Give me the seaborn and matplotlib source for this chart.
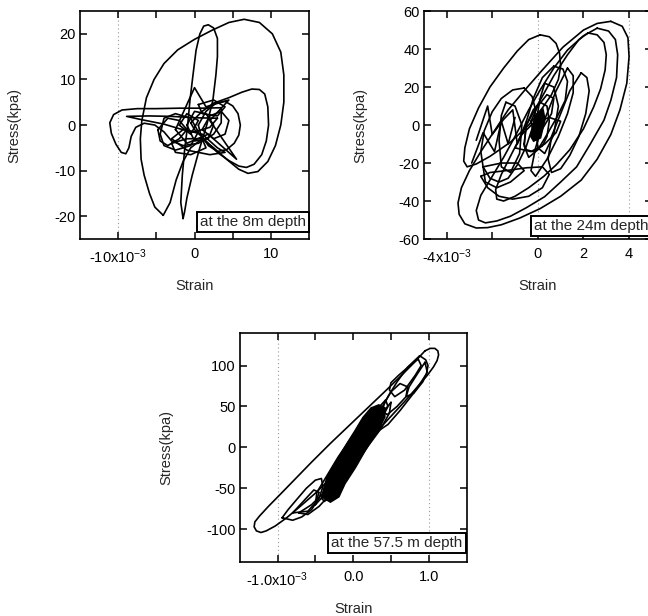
import pandas as pd
import seaborn as sns
import matplotlib.pyplot as plt

# Stress-strain loops.
# strain is in units of 1e-3, stress in kPa

# --- at the 8m depth ---
p1_big_x = [-4.1, -5.2, -5.9, -6.6, -7.0, -7.1, -6.9, -6.3, -5.3, -4.0, -2.2, 0.0, 2.3, 4.5, 6.5, 8.5,
            10.2, 11.3, 11.7, 11.7, 11.3, 10.6, 9.6, 8.3, 7.0, 5.8, 4.2, 2.5, 1.0, -0.5, -1.5, -2.4, -3.2, -4.1]
p1_big_y = [-19.8, -18.0, -15.0, -11.0, -7.5, -3.0, 1.0, 6.0, 10.0, 13.5, 16.5, 18.8, 20.8, 22.5, 23.2, 22.5,
            20.0, 16.0, 11.0, 5.0, 0.0, -4.5, -8.0, -10.2, -10.6, -9.7, -7.5, -5.0, -3.0, -5.0, -8.0, -12.0, -17.0, -19.8]
p1_tall_x = [-1.5, -1.8, -1.6, -1.3, -0.9, -0.6, -0.2, 0.2, 0.7, 1.2, 1.8, 2.5, 3.0, 3.0, 2.8, 2.4,
             1.6, 0.6, -0.3, -1.0, -1.3, -1.5]
p1_tall_y = [-20.5, -17.0, -11.0, -5.5, 0.0, 5.4, 11.0, 16.4, 20.0, 21.7, 22.0, 21.3, 19.0, 15.0, 11.0, 5.4,
             0.0, -5.5, -11.0, -16.0, -19.0, -20.5]
p1_left_x = [3.5, 1.0, -2.0, -5.0, -7.5, -9.5, -10.6, -11.1, -10.9, -10.3, -9.6, -9.0, -8.6, -8.3, -7.7,
             -6.6, -5.2, -4.0, -3.0, -1.5, 0.5, 2.5, 3.5, 3.5]
p1_left_y = [3.8, 3.7, 3.7, 3.6, 3.6, 3.3, 2.3, 0.5, -1.8, -4.2, -6.0, -6.3, -5.0, -2.5, -0.5,
             0.4, 0.0, -1.5, -3.5, -4.5, -4.0, -2.0, 0.5, 3.8]
p1_wedge_x = [3.0, 0.0, -3.0, -6.0, -8.9, -7.0, -4.0, -2.0, 0.0, 2.0, 3.0]
p1_wedge_y = [1.5, 1.6, 1.9, 2.0, 1.9, 1.2, 0.2, -0.8, -1.5, -0.5, 1.5]
p1_right1_x = [-0.5, 1.0, 2.5, 4.5, 6.2, 7.5, 8.5, 9.2, 9.6, 9.7, 9.4, 8.8, 7.8, 6.8, 5.8, 4.5, 3.0, 1.5, 0.0, -0.5]
p1_right1_y = [0.5, 3.0, 4.8, 6.0, 7.2, 7.9, 7.8, 6.8, 4.0, 0.0, -3.5, -6.5, -8.6, -9.3, -9.0, -7.8, -6.0, -3.5, -1.0, 0.5]
p1_right2_x = [0.5, 1.5, 2.8, 4.0, 5.0, 5.7, 6.0, 5.8, 5.2, 4.2, 3.0, 1.8, 0.8, 0.5]
p1_right2_y = [0.0, 3.0, 4.8, 5.2, 4.2, 2.5, 0.0, -2.2, -4.0, -5.4, -5.8, -4.5, -2.0, 0.0]
p1_star_x = [-2.5, 0.0, 1.5, 4.5, 2.0, 5.5, 1.8, -1.0, -2.5]
p1_star_y = [-1.0, 8.2, 4.0, 5.5, 1.0, -7.5, -2.0, -4.0, -1.0]
p1_c1_x = [-4.5, -4.0, -2.5, -0.5, 0.5, -0.5, -2.5, -4.0, -4.5]
p1_c1_y = [-2.0, 1.5, 2.5, 1.5, -1.5, -4.5, -5.5, -4.5, -2.0]
p1_c2_x = [-1.0, 0.0, 1.5, 2.5, 1.8, 0.0, -1.0]
p1_c2_y = [0.0, 3.0, 2.5, 0.0, -3.0, -3.5, 0.0]
p1_c3_x = [-3.0, -1.5, 1.0, 3.0, 4.0, 2.0, -1.0, -3.0]
p1_c3_y = [-3.0, -1.0, -2.0, -5.0, -6.0, -6.5, -5.5, -3.0]
p1_c4_x = [-2.0, -1.0, 0.5, -0.5, -2.0]
p1_c4_y = [0.0, 2.5, 1.0, -2.0, 0.0]
p1_c5_x = [-4.8, -4.5, -3.5, -2.0, -1.0, -2.0, -3.5, -4.8]
p1_c5_y = [-1.0, -3.5, -4.5, -3.0, -1.0, 1.0, 1.5, -1.0]
p1_c6_x = [1.0, 2.0, 3.5, 4.5, 4.0, 2.5, 1.0]
p1_c6_y = [-1.0, 2.0, 3.0, 1.0, -2.0, -3.0, -1.0]
p1_c7_x = [-3.0, -2.5, -0.5, 1.5, 1.0, -1.0, -3.0]
p1_c7_y = [-4.0, -6.0, -6.5, -5.0, -3.0, -3.0, -4.0]
p1_c8_x = [0.5, 2.5, 4.0, 3.0, 1.0, 0.5]
p1_c8_y = [4.5, 5.5, 4.0, 2.0, 2.5, 4.5]

# --- at the 24m depth ---
p2_outer_x = [3.2, 3.7, 3.95, 4.0, 3.9, 3.6, 3.2, 2.6, 1.9, 1.0, 0.1, -0.8, -1.6, -2.2, -2.7, -3.2, -3.45, -3.5,
              -3.35, -3.0, -2.5, -1.9, -1.3, -0.6, 0.2, 1.1, 2.0, 2.6, 3.2]
p2_outer_y = [54.6, 52.0, 46.0, 36.0, 22.0, 8.0, -5.0, -18.0, -29.0, -37.5, -44.0, -49.0, -52.5, -54.0, -54.2,
              -52.0, -47.0, -41.0, -33.0, -24.0, -14.0, -3.0, 8.0, 18.0, 29.0, 41.0, 50.0, 53.5, 54.6]
p2_e3_x = [2.6, 3.1, 3.4, 3.5, 3.45, 3.2, 2.9, 2.3, 1.7, 1.0, 0.3, -0.5, -1.2, -1.8, -2.3, -2.6, -2.7,
           -2.5, -2.1, -1.5, -1.0, -0.4, 0.1, 0.7, 1.3, 2.0, 2.6]
p2_e3_y = [51.0, 49.5, 45.0, 37.0, 25.0, 13.0, 2.6, -10.0, -22.0, -30.0, -37.7, -43.5, -48.0, -50.5, -51.5,
           -50.0, -45.0, -37.0, -29.0, -17.0, -6.0, 8.0, 18.4, 30.0, 39.5, 47.0, 51.0]
p2_e4_x = [2.2, 2.6, 2.9, 3.0, 2.95, 2.75, 2.45, 2.0, 1.4, 0.8, 0.26, -0.4, -1.0, -1.5, -1.8, -1.85, -1.6,
           -1.1, -0.5, 0.1, 0.7, 1.3, 1.8, 2.2]
p2_e4_y = [48.5, 47.5, 43.5, 37.0, 29.0, 19.0, 9.6, -2.0, -13.0, -21.0, -27.0, -33.0, -37.5, -40.0, -39.0,
           -34.0, -26.0, -14.0, 0.0, 13.0, 26.0, 37.0, 45.0, 48.5]
p2_e1_x = [0.1, 0.5, 0.8, 0.95, 1.0, 0.9, 0.6, 0.2, -0.4, -1.2, -2.1, -2.7, -3.1, -3.25, -3.2, -3.0, -2.6,
           -2.1, -1.5, -0.9, -0.4, 0.1]
p2_e1_y = [47.5, 46.5, 43.0, 38.0, 31.0, 24.0, 16.0, 9.0, 0.0, -9.0, -16.5, -20.5, -22.0, -19.0, -12.0, -2.0,
           9.0, 20.0, 30.0, 39.0, 45.0, 47.5]
p2_m1_x = [-0.6, -1.1, -1.6, -2.0, -2.35, -2.5, -2.4, -2.1, -1.7, -1.3, -0.9, -0.5, -0.2, -0.1, -0.25, -0.6]
p2_m1_y = [19.5, 18.5, 14.0, 7.0, -3.0, -14.0, -22.0, -28.0, -30.0, -28.0, -21.0, -11.0, 0.0, 8.0, 15.0, 19.5]
p2_m2_x = [0.7, 1.1, 1.3, 1.2, 0.85, 0.4, 0.0, -0.4, -0.6, -0.5, -0.2, 0.2, 0.7]
p2_m2_y = [31.0, 29.5, 23.0, 13.0, 4.4, -5.0, -13.0, -17.0, -11.0, 2.0, 14.0, 25.0, 31.0]
p2_m3_x = [1.9, 2.15, 2.25, 2.1, 1.8, 1.4, 1.0, 0.6, 0.45, 0.6, 1.0, 1.4, 1.9]
p2_m3_y = [27.5, 25.0, 18.0, 6.0, -6.0, -16.0, -23.0, -25.0, -18.0, -6.0, 6.0, 18.0, 27.5]
p2_m4_x = [1.3, 1.55, 1.55, 1.3, 0.9, 0.4, -0.1, -0.3, -0.1, 0.3, 0.8, 1.3]
p2_m4_y = [30.0, 26.0, 17.0, 6.0, -6.0, -18.0, -27.0, -24.0, -12.0, 3.0, 18.0, 30.0]
p2_m5_x = [-1.4, -1.0, -0.7, -0.8, -1.2, -1.6, -1.7, -1.6, -1.4]
p2_m5_y = [12.0, 10.0, 0.0, -15.0, -25.0, -22.0, -8.0, 5.0, 12.0]
p2_m6_x = [0.3, 0.7, 0.9, 0.7, 0.3, 0.0, -0.1, 0.1, 0.3]
p2_m6_y = [22.0, 20.0, 10.0, -5.0, -15.0, -12.0, 0.0, 14.0, 22.0]
p2_low_x = [-2.5, -2.2, -1.7, -1.1, -0.4, 0.2, 0.5, 0.2, -0.5, -1.4, -2.1, -2.5]
p2_low_y = [-27.0, -33.0, -37.5, -39.0, -37.5, -33.0, -26.0, -22.0, -22.5, -24.0, -25.0, -27.0]
p2_low2_x = [-2.4, -2.3, -1.8, -1.2, -0.6, -0.9, -1.6, -2.4]
p2_low2_y = [-22.0, -30.0, -33.0, -30.0, -24.0, -20.0, -20.0, -22.0]
p2_zig_x = [-2.7, -2.2, -2.0, -1.5, -1.1, -0.9, -0.5]
p2_zig_y = [-8.0, 10.0, -5.0, 3.0, 8.0, -10.0, 2.0]
p2_zig2_x = [-2.9, -2.4, -1.9, -1.6, -1.3, -1.0]
p2_zig2_y = [-20.0, -4.0, -14.0, 2.0, -10.0, 4.0]
p2_c1_x = [-0.6, -0.5, -0.2, 0.1, 0.4, 0.5, 0.4, 0.2, -0.2, -0.5, -0.6]
p2_c1_y = [-10.0, 0.0, 8.0, 12.0, 10.0, 2.0, -6.0, -11.0, -14.0, -13.0, -10.0]
p2_c2_x = [-1.0, -0.7, -0.2, 0.5, 1.0, 0.8, 0.3, -0.3, -1.0]
p2_c2_y = [-12.0, -5.0, 1.0, 4.0, 2.0, -4.0, -10.0, -14.0, -12.0]
p2_c3_x = [-0.3, 0.0, 0.4, 0.7, 0.6, 0.2, -0.2, -0.3]
p2_c3_y = [2.0, 10.0, 16.0, 14.0, 6.0, -2.0, -4.0, 2.0]
p2_blob_x = [-0.35, -0.1, 0.25, 0.35, 0.15, -0.2]
p2_blob_y = [-6.0, 6.0, 9.0, 3.0, -7.0, -9.0]

# --- at the 57.5 m depth ---
p3_outer_x = [0.95, 1.02, 1.08, 1.12, 1.13, 1.11, 1.06, 0.98, 0.85, 0.7, 0.5, 0.3, 0.1, -0.1, -0.3, -0.5,
              -0.7, -0.88, -1.03, -1.15, -1.22, -1.28, -1.31, -1.3, -1.24, -1.12, -0.95, -0.75, -0.55,
              -0.3, -0.05, 0.2, 0.45, 0.65, 0.8, 0.9, 0.95]
p3_outer_y = [118, 121, 121, 118, 113, 106, 98, 88, 74, 58, 38, 18, -2, -20, -38, -56,
              -72, -86, -96, -102, -104, -102, -97, -91, -84, -72, -56, -37, -18,
              5, 27, 49, 71, 89, 103, 113, 118]
p3_u1_x = [0.88, 0.96, 0.99, 0.97, 0.9, 0.78, 0.62, 0.46, 0.33, 0.3, 0.36, 0.46, 0.58, 0.72, 0.88]
p3_u1_y = [112, 107, 100, 90, 80, 64, 45, 28, 20, 30, 45, 62, 80, 98, 112]
p3_u2_x = [0.86, 0.75, 0.6, 0.5, 0.48, 0.55, 0.68, 0.82, 0.9, 0.86]
p3_u2_y = [108, 100, 88, 79, 70, 62, 70, 88, 100, 108]
p3_u3_x = [0.72, 0.62, 0.5, 0.42, 0.38, 0.45, 0.58, 0.7, 0.72]
p3_u3_y = [74, 78, 68, 55, 45, 40, 50, 62, 74]
p3_u4_x = [0.95, 0.98, 0.92, 0.8, 0.7, 0.74, 0.85, 0.95]
p3_u4_y = [104, 92, 80, 66, 62, 74, 90, 104]
p3_l1_x = [-0.94, -0.86, -0.75, -0.62, -0.5, -0.42, -0.4, -0.45, -0.55, -0.68, -0.8, -0.94]
p3_l1_y = [-86, -76, -64, -50, -40, -38, -48, -62, -76, -85, -89, -86]
p3_l2_x = [-0.8, -0.7, -0.6, -0.52, -0.45, -0.5, -0.6, -0.8]
p3_l2_y = [-80, -70, -60, -52, -55, -68, -78, -80]
p3_l3_x = [-0.72, -0.6, -0.45, -0.35, -0.3, -0.42, -0.55, -0.72]
p3_l3_y = [-80, -82, -72, -62, -55, -58, -70, -80]
p3_b1_x = [0.43, 0.46, 0.35, 0.2, 0.05, -0.12, -0.28, -0.38, -0.42, -0.32, -0.15, 0.0, 0.15, 0.3, 0.43]
p3_b1_y = [58, 50, 30, 8, -15, -38, -58, -66, -62, -45, -22, 0, 22, 45, 58]
p3_b2_x = [0.5, 0.48, 0.36, 0.2, 0.05, -0.1, -0.2, -0.1, 0.05, 0.2, 0.35, 0.5]
p3_b2_y = [55, 42, 22, 2, -18, -40, -50, -30, -8, 15, 38, 55]
p3_b3_x = [-0.5, -0.48, -0.35, -0.2, -0.05, 0.1, 0.15, 0.0, -0.15, -0.3, -0.5]
p3_b3_y = [-70, -55, -35, -12, 8, 30, 18, -5, -28, -50, -70]
p3_dense_x = [-0.43, -0.36, -0.23, -0.1, 0.01, 0.12, 0.23, 0.34, 0.43, 0.43, 0.34, 0.25, 0.17,
              0.04, -0.1, -0.18, -0.3, -0.43]
p3_dense_y = [-61, -37, -16, 4, 20, 37, 49, 53, 49, 37, 20, 8, -4,
              -25, -45, -61, -68, -61]

panels = [
    dict(loops={'big': (p1_big_x, p1_big_y), 'tall': (p1_tall_x, p1_tall_y),
                'left': (p1_left_x, p1_left_y), 'wedge': (p1_wedge_x, p1_wedge_y),
                'r1': (p1_right1_x, p1_right1_y), 'r2': (p1_right2_x, p1_right2_y),
                'star': (p1_star_x, p1_star_y), 'c1': (p1_c1_x, p1_c1_y),
                'c2': (p1_c2_x, p1_c2_y), 'c3': (p1_c3_x, p1_c3_y), 'c4': (p1_c4_x, p1_c4_y),
                'c5': (p1_c5_x, p1_c5_y), 'c6': (p1_c6_x, p1_c6_y), 'c7': (p1_c7_x, p1_c7_y),
                'c8': (p1_c8_x, p1_c8_y)},
         fill=None,
         rect=[0.1235, 0.612, 0.3534, 0.370],
         xlim=(-15, 15), ylim=(-25, 25),
         xticks=[-10, -5, 0, 5, 10], xticklabels=['-10x10$^{-3}$', '', '0', '', '10'],
         yticks=[-20, -10, 0, 10, 20], yticklabels=['-20', '-10', '0', '10', '20'],
         vlines=[-10], label='at the 8m depth', box_xy=(0.985, 0.045), ylab_x=-0.258),
    dict(loops={'outer': (p2_outer_x, p2_outer_y), 'e3': (p2_e3_x, p2_e3_y),
                'e4': (p2_e4_x, p2_e4_y), 'e1': (p2_e1_x, p2_e1_y),
                'm1': (p2_m1_x, p2_m1_y), 'm2': (p2_m2_x, p2_m2_y), 'm3': (p2_m3_x, p2_m3_y),
                'm4': (p2_m4_x, p2_m4_y), 'm5': (p2_m5_x, p2_m5_y), 'm6': (p2_m6_x, p2_m6_y),
                'low': (p2_low_x, p2_low_y), 'low2': (p2_low2_x, p2_low2_y),
                'zig': (p2_zig_x, p2_zig_y), 'zig2': (p2_zig2_x, p2_zig2_y),
                'c1': (p2_c1_x, p2_c1_y), 'c2': (p2_c2_x, p2_c2_y), 'c3': (p2_c3_x, p2_c3_y)},
         fill=(p2_blob_x, p2_blob_y),
         rect=[0.654, 0.612, 0.352, 0.370],
         xlim=(-5, 5), ylim=(-60, 60),
         xticks=[-4, -2, 0, 2, 4], xticklabels=['-4x10$^{-3}$', '', '0', '2', '4'],
         yticks=[-60, -40, -20, 0, 20, 40, 60],
         yticklabels=['-60', '-40', '-20', '0', '20', '40', '60'],
         vlines=[0, 4], label='at the 24m depth', box_xy=(0.985, 0.027), ylab_x=-0.246),
    dict(loops={'outer': (p3_outer_x, p3_outer_y), 'u1': (p3_u1_x, p3_u1_y),
                'u2': (p3_u2_x, p3_u2_y), 'u3': (p3_u3_x, p3_u3_y), 'u4': (p3_u4_x, p3_u4_y),
                'l1': (p3_l1_x, p3_l1_y), 'l2': (p3_l2_x, p3_l2_y), 'l3': (p3_l3_x, p3_l3_y),
                'b1': (p3_b1_x, p3_b1_y), 'b2': (p3_b2_x, p3_b2_y), 'b3': (p3_b3_x, p3_b3_y)},
         fill=(p3_dense_x, p3_dense_y),
         rect=[0.370, 0.0877, 0.350, 0.372],
         xlim=(-1.5, 1.5), ylim=(-140, 140),
         xticks=[-1.0, -0.5, 0.0, 0.5, 1.0], xticklabels=['-1.0x10$^{-3}$', '', '0.0', '', '1.0'],
         yticks=[-100, -50, 0, 50, 100], yticklabels=['-100', '-50', '0', '50', '100'],
         vlines=[-1.0, 1.0], label='at the 57.5 m depth', box_xy=(0.982, 0.052), ylab_x=-0.295),
]


def loops_frame(loops):
    rows = []
    for name, (xs, ys) in loops.items():
        for x, y in zip(xs, ys):
            rows.append({'loop': name, 'strain': x, 'stress': y})
    return pd.DataFrame(rows)


sns.set_style("ticks")
plt.rcParams['font.family'] = ['Liberation Sans', 'DejaVu Sans']
plt.rcParams['mathtext.default'] = 'regular'
plt.rcParams['axes.unicode_minus'] = False

fig = plt.figure(figsize=(6.48, 6.16), dpi=100)

for p in panels:
    ax = fig.add_axes(p['rect'])
    for v in p['vlines']:
        ax.axvline(v, color='0.6', lw=0.8, ls=(0, (1, 2.5)), zorder=0)
    if p['fill'] is not None:
        ax.fill(p['fill'][0], p['fill'][1], color='black', lw=0)
    df = loops_frame(p['loops'])
    sns.lineplot(data=df, x='strain', y='stress', units='loop', estimator=None, sort=False,
                 color='black', linewidth=1.2, legend=False, ax=ax)
    ax.set_xlim(p['xlim'])
    ax.set_ylim(p['ylim'])
    ax.set_xticks(p['xticks'])
    ax.set_xticklabels(p['xticklabels'])
    ax.set_yticks(p['yticks'])
    ax.set_yticklabels(p['yticklabels'])
    ax.tick_params(direction='in', top=True, right=True, length=5, width=1.1,
                   labelsize=10.5, colors='black')
    ax.tick_params(axis='x', pad=6)
    ax.tick_params(axis='y', pad=3)
    for s in ax.spines.values():
        s.set_linewidth(1.2)
        s.set_color('black')
    ax.set_xlabel('Strain', fontsize=10.5)
    ax.set_ylabel('Stress(kpa)', fontsize=10.5)
    ax.xaxis.set_label_coords(0.5, -0.175)
    ax.xaxis.label.set_va('top')
    ax.yaxis.set_label_coords(p['ylab_x'], 0.5)
    ax.text(p['box_xy'][0], p['box_xy'][1], p['label'], transform=ax.transAxes,
            ha='right', va='bottom', fontsize=11,
            bbox=dict(boxstyle='square,pad=0.2', fc='white', ec='black', lw=1.4))

fig.savefig('out.png', dpi=100)
